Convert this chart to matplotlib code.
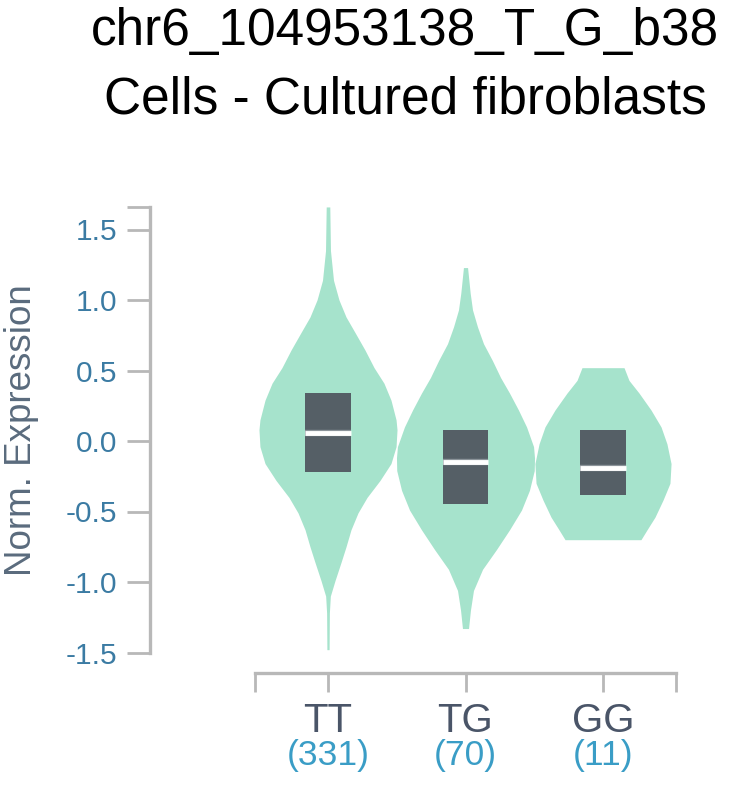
import matplotlib
matplotlib.use('Agg')
import matplotlib.pyplot as plt
import matplotlib.patheffects as pe
from matplotlib.patches import Rectangle

plt.rcParams['font.family'] = ['Liberation Sans', 'DejaVu Sans']

genotypes = ['TT', 'TG', 'GG']
counts = [331, 70, 11]

# violin outlines: expression value and half width
# (half width is a fraction of the spacing between two genotypes)
tt_y = [1.66, 1.35, 1.14, 1.00, 0.88, 0.77, 0.645, 0.52, 0.41, 0.29, 0.15, 0.08,
        -0.04, -0.16, -0.28, -0.40, -0.51, -0.63, -0.75, -0.86, -0.99, -1.10, -1.22, -1.48]
tt_w = [0.013, 0.018, 0.040, 0.080, 0.131, 0.196, 0.269, 0.335, 0.407, 0.458, 0.495, 0.502,
        0.495, 0.458, 0.378, 0.284, 0.218, 0.167, 0.131, 0.095, 0.051, 0.017, 0.010, 0.008]

tg_y = [1.23, 1.05, 0.93, 0.81, 0.69, 0.57, 0.45, 0.34, 0.22, 0.10, -0.04, -0.12,
        -0.21, -0.35, -0.49, -0.63, -0.77, -0.91, -1.06, -1.20, -1.33]
tg_w = [0.015, 0.034, 0.051, 0.087, 0.131, 0.196, 0.255, 0.320, 0.385, 0.444, 0.495, 0.502,
        0.500, 0.465, 0.407, 0.320, 0.225, 0.124, 0.058, 0.036, 0.022]

gg_y = [0.52, 0.43, 0.34, 0.22, 0.10, -0.02, -0.16, -0.30, -0.42, -0.54, -0.63, -0.70]
gg_w = [0.153, 0.189, 0.262, 0.349, 0.422, 0.465, 0.495, 0.487, 0.436, 0.378, 0.320, 0.276]

# interquartile boxes and medians
q1 = [-0.22, -0.45, -0.38]
q3 = [0.34, 0.078, 0.078]
medians = [0.057, -0.15, -0.19]

yticks = [-1.5, -1.0, -0.5, 0.0, 0.5, 1.0, 1.5]

violin_color = '#a6e3cc'
box_color = '#555f66'
axis_color = '#b8b8b8'

W, H = 736, 788
fig = plt.figure(figsize=(W / 100, H / 100), dpi=100)

# axes box in pixels of the picture
left, right, top, bottom = 150, 690, 195, 673
ax = fig.add_axes([left / W, 1 - bottom / H, (right - left) / W, (bottom - top) / H])

# pixel -> data: slot centre of TT at x=328, 137.5 px per slot; 0.0 at y=441, 141 px per unit
ax.set_xlim((left - 328) / 137.5, (right - 328) / 137.5)
ax.set_ylim((441 - bottom) / 141, (441 - top) / 141)

profiles = [(tt_y, tt_w), (tg_y, tg_w), (gg_y, gg_w)]
box_half = 0.167
for i, (ys, ws) in enumerate(profiles):
    ax.fill_betweenx(ys, [i - w for w in ws], [i + w for w in ws],
                     color=violin_color, lw=0, zorder=1)
    ax.add_patch(Rectangle((i - box_half, q1[i]), 2 * box_half, q3[i] - q1[i],
                           color=box_color, lw=0, zorder=2))
    ax.plot([i - box_half, i + box_half], [medians[i], medians[i]],
            color='white', lw=3.5, solid_capstyle='butt', zorder=3,
            path_effects=[pe.Stroke(linewidth=4.6, foreground='#8c949a'), pe.Normal()])

y_max = max(tt_y + tg_y + gg_y)
x_lo, x_hi = -0.53, len(genotypes) - 1 + 0.53

for s in ['top', 'right']:
    ax.spines[s].set_visible(False)
for s in ['left', 'bottom']:
    ax.spines[s].set_color(axis_color)
    ax.spines[s].set_linewidth(2.4)
ax.spines['left'].set_bounds(-1.5, y_max)
ax.spines['bottom'].set_bounds(x_lo, x_hi)

ax.set_yticks(yticks)
ax.set_yticklabels(['%.1f' % t for t in yticks])
ax.set_yticks([y_max], minor=True)
ax.set_xticks(range(len(genotypes)))
ax.set_xticklabels([''] * len(genotypes))
ax.set_xticks([x_lo, x_hi], minor=True)

ax.tick_params(axis='y', which='both', length=16.5, width=2.0, color=axis_color,
               pad=7, labelsize=21.5, labelcolor='#3b7ba3')
ax.tick_params(axis='x', which='both', length=13.7, width=2.0, color=axis_color)

ax.set_ylabel('Norm. Expression', fontsize=26.5, color='#5a6b7d', va='center')
ax.yaxis.set_label_coords((22 - left) / (right - left), (bottom - 430) / (bottom - top))

for i, (g, n) in enumerate(zip(genotypes, counts)):
    ax.annotate(g, xy=(i, 0), xycoords=('data', 'axes fraction'),
                xytext=(0, -(732 - bottom)), textcoords='offset pixels',
                ha='center', va='baseline', fontsize=29, color='#4a5568')
    ax.annotate('(%d)' % n, xy=(i, 0), xycoords=('data', 'axes fraction'),
                xytext=(0, -(765 - bottom)), textcoords='offset pixels',
                ha='center', va='baseline', fontsize=25.5, color='#3a9dc6')

fig.text(405 / W, 1 - 45 / H, 'chr6_104953138_T_G_b38', ha='center', va='baseline',
         fontsize=37, color='black')
fig.text(405 / W, 1 - 114 / H, 'Cells - Cultured fibroblasts', ha='center', va='baseline',
         fontsize=37, color='black')

fig.savefig('out.png', dpi=100)
